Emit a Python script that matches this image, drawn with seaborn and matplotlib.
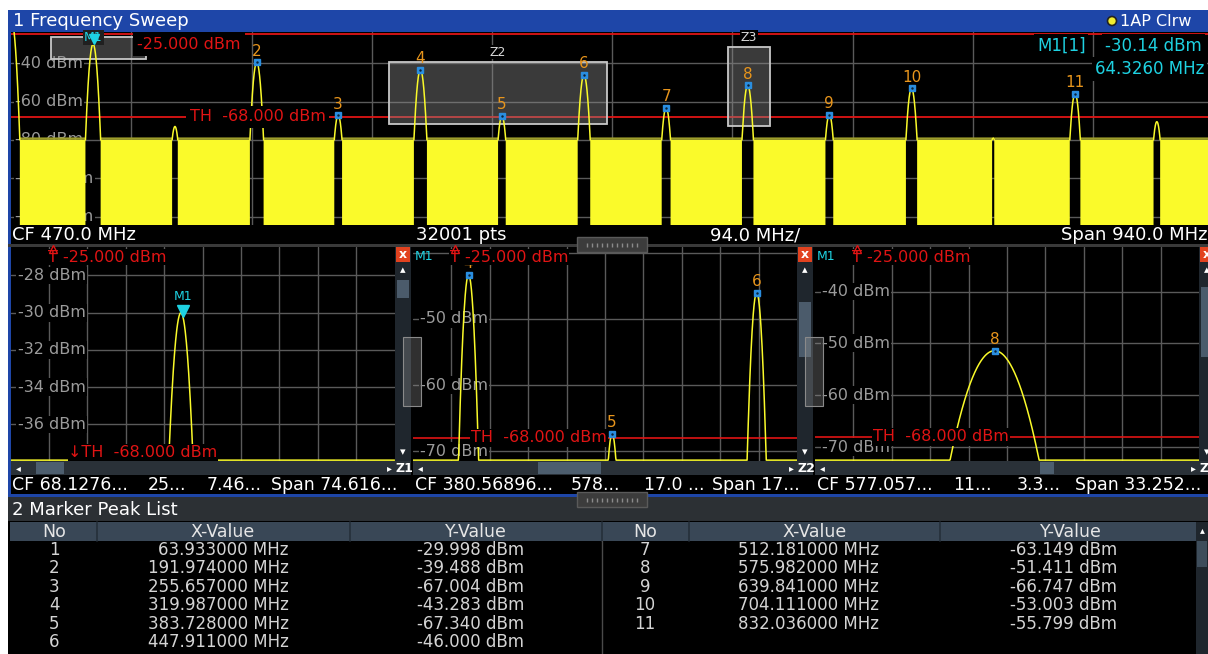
import numpy as np
import pandas as pd
import matplotlib
matplotlib.use('Agg')
import matplotlib.pyplot as plt
import matplotlib.transforms as mtransforms
from matplotlib.patches import Rectangle, Circle
import seaborn as sns

# ---- values ----
peak_no = [1, 2, 3, 4, 5, 6, 7, 8, 9, 10, 11]
peak_freq_mhz = [63.933, 191.974, 255.657, 319.987, 383.728, 447.911,
                 512.181, 575.982, 639.841, 704.111, 832.036]
peak_level_dbm = [-29.998, -39.488, -67.004, -43.283, -67.340, -46.000,
                  -63.149, -51.411, -66.747, -53.003, -55.799]

# signals without a marker (LO feedthrough at 0 Hz and harmonics below TH)
spur_freq_mhz = [0.0, 128.0, 768.0, 896.0]
spur_level_dbm = [-17.0, -73.0, -79.0, -70.5]

noise_floor_dbm = -80.0
start_mhz, stop_mhz = 0.0, 940.0
sweep_points = 32001
main_ylim = (-124.4, -23.7)
main_ygrid = [-40, -60, -80, -100, -120]
limit_t_dbm = -25.0
threshold_dbm = -68.0

m1_freq_mhz = 64.326
m1_level_dbm = -30.14

zoom_names = ['Z1', 'Z2', 'Z3']
zoom_cf_mhz = [68.1276, 380.56896, 577.057]
zoom_span_mhz = [74.616, 170.5, 33.252]
zoom_ylim = [(-37.96, -26.47), (-71.5, -39.1), (-72.7, -31.4)]
zoom_ygrid = [[-28, -30, -32, -34, -36], [-40, -50, -60, -70], [-40, -50, -60, -70]]
zoom_ylabels = [[-28, -30, -32, -34, -36], [-50, -60, -70], [-40, -50, -60, -70]]
zoom_status = [['CF 68.1276...', '25...', '7.46...', 'Span 74.616...'],
               ['CF 380.56896...', '578...', '17.0 ...', 'Span 17...'],
               ['CF 577.057...', '11...', '3.3...', 'Span 33.252...']]

table_cols = ['No', 'X-Value', 'Y-Value']

# ---- look ----
YELLOW = '#fafa2a'
RED = '#e01414'
CYAN = '#1ed2e2'
ORANGE = '#e8951c'
BLUE = '#1e46a8'
GRID = '#5a5a5a'
LABEL = '#9b9b9b'
RBW_CURV = 1.42  # dB per MHz^2, shape of the RBW filter in dB

sns.set_style("dark")
plt.rcParams['font.family'] = ['DejaVu Sans']

W, H = 1208, 654
fig = plt.figure(figsize=(W / 100, H / 100), dpi=100, facecolor='white')


def frac(x0, y0, x1, y1):
    return [x0 / W, 1 - y1 / H, (x1 - x0) / W, (y1 - y0) / H]


def box(ax, x0, y0, x1, y1, color, **kw):
    ax.add_patch(Rectangle((x0, y0), x1 - x0, y1 - y0, facecolor=color,
                           edgecolor=kw.pop('ec', 'none'), **kw))


def pixel_axes():
    a = fig.add_axes([0, 0, 1, 1])
    a.set_xlim(0, W)
    a.set_ylim(H, 0)
    a.axis('off')
    return a


def trace(freq):
    tr = np.full_like(freq, noise_floor_dbm)
    for f0, lv in zip(peak_freq_mhz + spur_freq_mhz, peak_level_dbm + spur_level_dbm):
        tr = np.maximum(tr, lv - RBW_CURV * (freq - f0) ** 2)
    return tr


def clean(ax):
    ax.set_facecolor('black')
    ax.set_xticks([])
    ax.set_yticks([])
    ax.set_xlabel('')
    ax.set_ylabel('')
    for s in ax.spines.values():
        s.set_visible(False)


# ---- screen chrome ----
chrome = pixel_axes()
box(chrome, 8, 10, W, H, 'black')
box(chrome, 8, 10, W, 32, BLUE)
box(chrome, 8, 32, 10.5, 495, BLUE)
box(chrome, 8, 493.5, W, 497, BLUE)
box(chrome, 8, 244, W, 246.5, '#3a3a3a')
chrome.text(13, 21.5, '1 Frequency Sweep', color='white', fontsize=13, va='center')
chrome.add_patch(Circle((1112, 21), 4.5, facecolor='#f2ee30', edgecolor='#222222', lw=1.2))
chrome.text(1120, 21.5, '1AP Clrw', color='white', fontsize=11.5, va='center')

span = stop_mhz - start_mhz
main_status = [(12, f'CF {(start_mhz + stop_mhz) / 2:.1f} MHz'), (416, f'{sweep_points} pts'),
               (710, f'{span / 10:.1f} MHz/'), (1061, f'Span {span:.1f} MHz')]
for x, s in main_status:
    chrome.text(x, 235, s, color='white', fontsize=13, va='center')

# ---- main sweep ----
ax = fig.add_axes(frac(11.3, 32, 1213.1, 225))
freq = np.linspace(start_mhz, stop_mhz, sweep_points)
main_tr = trace(freq)
above = main_tr > noise_floor_dbm + 0.05
edge = above | np.roll(above, 1) | np.roll(above, -1)
seg = np.cumsum(edge & ~np.roll(edge, 1))
df_main = pd.DataFrame({'freq': freq[edge], 'level': main_tr[edge], 'seg': seg[edge]})

for k in range(1, 10):
    ax.axvline(start_mhz + span / 10 * k, color=GRID, lw=1, zorder=0.5)
ax_px = mtransforms.blended_transform_factory(fig.transFigure, ax.transData)
for v in main_ygrid:
    ax.axhline(v, color=GRID, lw=1, zorder=0.5)
    ax.text(15 / W, v, f'{v} dBm', transform=ax_px, ha='left', va='center', color=LABEL,
            fontsize=11.5, zorder=1, bbox=dict(fc='black', ec='none', pad=1))

ax.fill_between(freq, main_ylim[0] - 5, noise_floor_dbm, where=~above, color=YELLOW, lw=0, zorder=2)
ax.fill_between(freq, noise_floor_dbm, noise_floor_dbm + 1.3, where=~above, color='#9c9c2a', lw=0, zorder=2)
sns.lineplot(data=df_main, x='freq', y='level', units='seg', estimator=None, sort=False,
             color=YELLOW, lw=1.1, ax=ax, legend=False, zorder=3)

ax.axhline(limit_t_dbm, color=RED, lw=1.3, zorder=2.2)
ax.axhline(threshold_dbm, color=RED, lw=1.3, zorder=2.2)
ax.annotate(f'{limit_t_dbm:.3f} dBm', (137 / W, limit_t_dbm), xycoords=ax_px, xytext=(0, -2),
            textcoords='offset points', va='top', color=RED, fontsize=11.5, zorder=5,
            bbox=dict(fc='black', ec='none', pad=3))
ax.text(190 / W, threshold_dbm, f'TH  {threshold_dbm:.3f} dBm', transform=ax_px, va='center',
        color=RED, fontsize=11.5, zorder=5, bbox=dict(fc='black', ec='none', pad=2.5))

# zoom areas drawn on the overview
for name, cf, sp, (ylo, yhi) in zip(zoom_names, zoom_cf_mhz, zoom_span_mhz, zoom_ylim):
    ax.add_patch(Rectangle((cf - sp / 2, ylo), sp, yhi - ylo, facecolor=(0.55, 0.55, 0.55, 0.42),
                           edgecolor='#c8c8c8', lw=1.3, zorder=2.6))
    if not (cf - sp / 2 < m1_freq_mhz < cf + sp / 2):  # label sits under the M1 flag otherwise
        ax.annotate(name, (cf, yhi), xytext=(0, 2), textcoords='offset points', ha='center',
                    va='bottom', color='#d8d8d8', fontsize=9, zorder=4,
                    bbox=dict(fc='black', ec='none', pad=0.5))

ax.plot(peak_freq_mhz[1:], peak_level_dbm[1:], 's', ms=4.5, mfc='#2a8ee0', mec='#2a8ee0', zorder=4)
ax.plot(peak_freq_mhz[1:], peak_level_dbm[1:], '.', ms=1.5, color='#0a2238', zorder=4.1)
for n, f, lv in zip(peak_no[1:], peak_freq_mhz[1:], peak_level_dbm[1:]):
    ax.annotate(str(n), (f, lv), xytext=(0, 2.5), textcoords='offset points', ha='center',
                va='bottom', color=ORANGE, fontsize=11, zorder=4)
ax.annotate('M1', (m1_freq_mhz, m1_level_dbm), xytext=(0, 5), textcoords='offset points',
            ha='center', va='center', color=CYAN, fontsize=9, zorder=4.5,
            bbox=dict(fc='#202020', ec='none', pad=0.5))
ax.plot(m1_freq_mhz, m1_level_dbm, 'v', ms=7, color=CYAN, zorder=4.6,
        transform=mtransforms.offset_copy(ax.transData, fig=fig, y=5, units='dots'))

for x, y, s in [(1037, 46, 'M1[1]'), (1105, 46, f'{m1_level_dbm:.2f} dBm'),
                (1095, 69, f'{m1_freq_mhz:.4f} MHz')]:
    ax.text(x / W, 1 - y / H, s, transform=fig.transFigure, color=CYAN, fontsize=12,
            va='center', zorder=6, bbox=dict(fc='black', ec='none', pad=2))

ax.set_xlim(start_mhz, stop_mhz)
ax.set_ylim(*main_ylim)
clean(ax)

# ---- zoom windows ----
win_x0 = [10.5, 413, 815]
status_x = [[12, 148, 207, 271], [415, 571, 644, 712], [817, 953, 1017, 1075]]
vthumb = [(280, 298), (302, 357), (287, 357)]
hthumb = [(36, 64), (538, 601), (1040, 1054)]

for i, x0 in enumerate(win_x0):
    cf, sp = zoom_cf_mhz[i], zoom_span_mhz[i]
    ylo, yhi = zoom_ylim[i]
    f0, f1 = cf - sp / 2, cf + sp / 2

    # scroll bars and status line
    box(chrome, x0 + 384, 247, x0 + 400, 461, '#1f262d')
    box(chrome, x0 + 385, 247, x0 + 399, 262, '#e2421f')
    chrome.text(x0 + 392, 255, 'x', color='white', fontsize=9, fontweight='bold', ha='center', va='center')
    chrome.text(x0 + 392, 270, '▴', color='white', fontsize=8, ha='center', va='center')
    chrome.text(x0 + 392, 452, '▾', color='white', fontsize=8, ha='center', va='center')
    box(chrome, x0 + 386, vthumb[i][0], x0 + 398, vthumb[i][1], '#4b5b6b')
    box(chrome, x0, 461, x0 + 400, 475, '#2a3138')
    box(chrome, hthumb[i][0], 462, hthumb[i][1], 474, '#4d5e6e')
    chrome.text(x0 + 5, 468, '◂', color='white', fontsize=7, va='center')
    chrome.text(x0 + 376, 468, '▸', color='white', fontsize=7, va='center')
    chrome.text(x0 + 385, 468, zoom_names[i], color='white', fontsize=9, fontweight='bold', va='center')
    for x, s in zip(status_x[i], zoom_status[i]):
        chrome.text(x, 485, s, color='white', fontsize=12.5, va='center')

    zx = fig.add_axes(frac(x0, 247, x0 + 384, 461))
    zf = np.linspace(f0, f1, 1001)
    ztr = np.maximum(trace(zf), ylo + 0.004 * (yhi - ylo))
    for k in range(1, 10):
        zx.axvline(f0 + sp / 10 * k, color=GRID, lw=1, zorder=0.5)
    zpx = mtransforms.blended_transform_factory(fig.transFigure, zx.transData)
    for v in zoom_ygrid[i]:
        zx.axhline(v, color=GRID, lw=1, zorder=0.5)
    for v in zoom_ylabels[i]:
        zx.text((x0 + 7) / W, v, f'{v} dBm', transform=zpx, ha='left', va='center',
                color=LABEL, fontsize=11.5, zorder=1, bbox=dict(fc='black', ec='none', pad=1))

    sns.lineplot(x=zf, y=ztr, color=YELLOW, lw=1.1, ax=zx, zorder=3, estimator=None, sort=False)

    g1 = f0 + sp / 10
    top = mtransforms.blended_transform_factory(zx.transData, zx.transAxes)
    zx.annotate(f'T {limit_t_dbm:.3f} dBm', (g1, 1), xycoords=top, xytext=(-1, -2),
                textcoords='offset points', va='top', color=RED, fontsize=11.5, zorder=5,
                bbox=dict(fc='black', ec='none', pad=0.5))
    zx.plot(g1, 1, '^', ms=6, mfc='none', mec=RED, mew=1, clip_on=False, zorder=5.5,
            transform=mtransforms.offset_copy(top, fig=fig, x=4, y=-2, units='dots'))
    th_x = (x0 + 58) / W
    if threshold_dbm < ylo:
        zx.text(th_x, 0.005, f'↓TH  {threshold_dbm:.3f} dBm', transform=mtransforms.blended_transform_factory(
            fig.transFigure, zx.transAxes), va='bottom', color=RED, fontsize=11.5, zorder=5,
            bbox=dict(fc='black', ec='none', pad=0.5))
    else:
        zx.axhline(threshold_dbm, color=RED, lw=1.2, zorder=2.2)
        zx.text(th_x, threshold_dbm, f'TH  {threshold_dbm:.3f} dBm', transform=zpx, va='center',
                color=RED, fontsize=11.5, zorder=5, bbox=dict(fc='black', ec='none', pad=1))

    inside = [(n, f, lv) for n, f, lv in zip(peak_no, peak_freq_mhz, peak_level_dbm)
              if n != 1 and f0 < f < f1]
    for n, f, lv in inside:
        zx.plot(f, lv, 's', ms=4.5, mfc='#2a8ee0', mec='#2a8ee0', zorder=4)
        zx.plot(f, lv, '.', ms=1.5, color='#0a2238', zorder=4.1)
        zx.annotate(str(n), (f, lv), xytext=(0, 2.5), textcoords='offset points', ha='center',
                    va='bottom', color=ORANGE, fontsize=11, zorder=4, annotation_clip=True)

    if f0 < m1_freq_mhz < f1:
        zx.plot(m1_freq_mhz, m1_level_dbm, 'v', ms=8, color=CYAN, zorder=4.6,
                transform=mtransforms.offset_copy(zx.transData, fig=fig, y=4, units='dots'))
        zx.annotate('M1', (m1_freq_mhz, m1_level_dbm), xytext=(0, 9), textcoords='offset points',
                    ha='center', va='bottom', color=CYAN, fontsize=9, zorder=4.5)
    else:
        zx.text(0.005, 0.985, 'M1', transform=zx.transAxes, va='top', color=CYAN, fontsize=9, zorder=5)

    zx.set_xlim(f0, f1)
    zx.set_ylim(ylo, yhi)
    clean(zx)

# ---- marker peak list ----
box(chrome, 8, 497, W, 520.5, '#2c3034')
chrome.text(12, 510, '2 Marker Peak List', color='white', fontsize=13, va='center')
box(chrome, 10, 522, 1196, 541, '#394756')
for x in [97, 350, 602, 689, 940]:
    chrome.plot([x, x], [522, 541], color='#25303a', lw=1.2)
chrome.plot([602, 602], [541, H], color='#4a4a4a', lw=1)
for x, s in zip([54, 223, 476, 645, 815, 1071], table_cols * 2):
    chrome.text(x, 532, s, color='#e6e6e6', fontsize=12.5, ha='center', va='center')
for j, (n, f, lv) in enumerate(zip(peak_no, peak_freq_mhz, peak_level_dbm)):
    grp, row = divmod(j, 6)
    y = 550 + 18.4 * row
    xs = [(54, 289, 524), (645, 879, 1117)][grp]
    chrome.text(xs[0], y, str(n), color='#d4d4d4', fontsize=12, ha='center', va='center')
    chrome.text(xs[1], y, f'{f:.6f} MHz', color='#d4d4d4', fontsize=12, ha='right', va='center')
    chrome.text(xs[2], y, f'{lv:.3f} dBm', color='#d4d4d4', fontsize=12, ha='right', va='center')
box(chrome, 1196, 522, W, H, '#1f262d')
box(chrome, 1197, 541, 1207, 567, '#3e4d5b')
chrome.text(1202, 530, '▴', color='white', fontsize=7, ha='center', va='center')

# ---- splitter handles on top ----
over = pixel_axes()
for x0, y0, x1, y1 in [(577, 237, 647, 252), (577, 492, 647, 507)]:
    box(over, x0, y0, x1, y1, '#3c3c3c', ec='#5a5a5a', lw=1)
    ticks = np.arange(x0 + 10, x1 - 8, 5)
    over.plot(ticks, [(y0 + y1) / 2] * len(ticks), '|', ms=2.5, color='#8a8a8a')
for x0 in [403, 805]:
    box(over, x0, 337, x0 + 18, 406, (0.55, 0.55, 0.55, 0.35), ec='#8a8a8a', lw=0.8)

fig.savefig('out.png', dpi=100, facecolor='white')
